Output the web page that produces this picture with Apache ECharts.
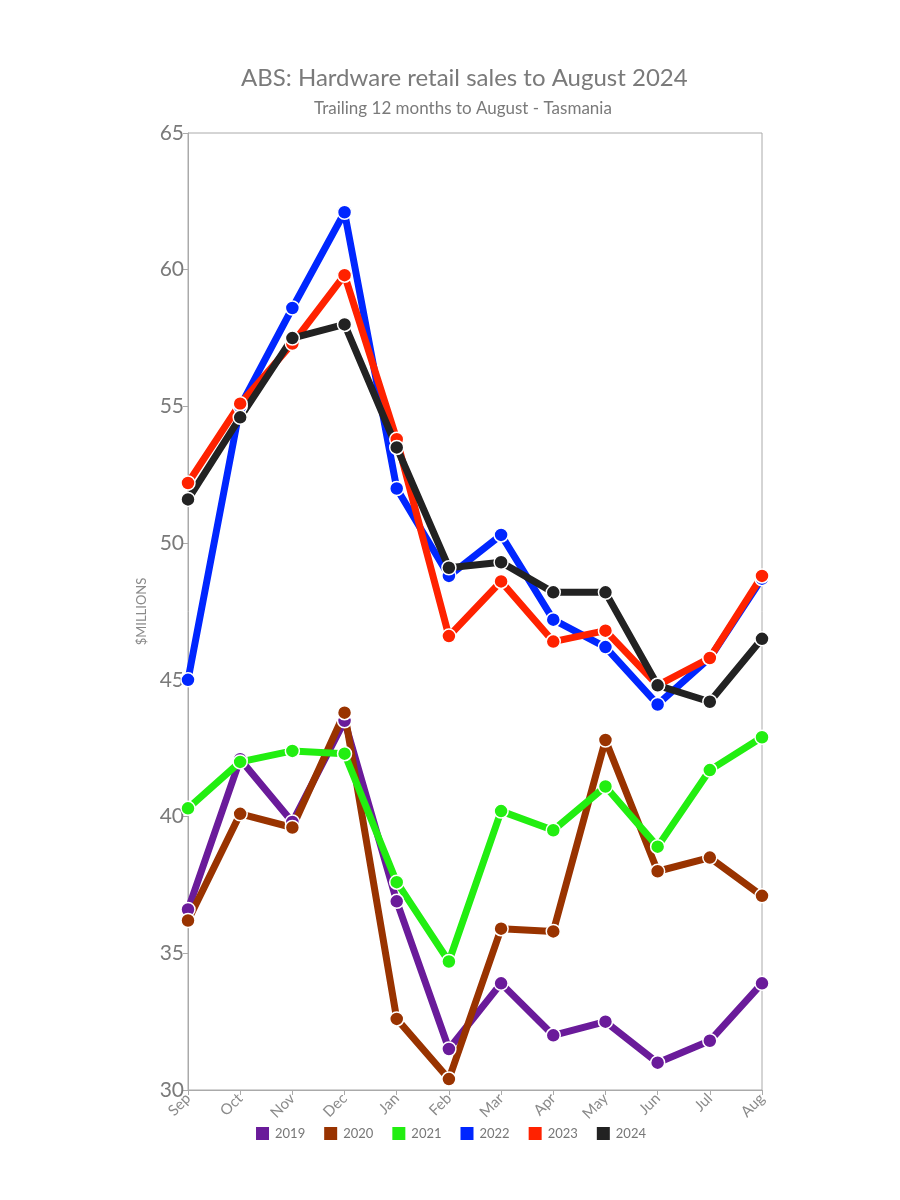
<!DOCTYPE html>
<html>
<head>
<meta charset="utf-8">
<script src="https://cdn.jsdelivr.net/npm/echarts@6/dist/echarts.min.js"></script>
<style>html,body{margin:0;padding:0;background:#fff}#chart{width:900px;height:1200px}</style>
</head>
<body>
<div id="chart"></div>
<script>
const months = ['Sep','Oct','Nov','Dec','Jan','Feb','Mar','Apr','May','Jun','Jul','Aug'];
const s2019 = [36.6, 42.1, 39.8, 43.5, 36.9, 31.5, 33.9, 32.0, 32.5, 31.0, 31.8, 33.9];
const s2020 = [36.2, 40.1, 39.6, 43.8, 32.6, 30.4, 35.9, 35.8, 42.8, 38.0, 38.5, 37.1];
const s2021 = [40.3, 42.0, 42.4, 42.3, 37.6, 34.7, 40.2, 39.5, 41.1, 38.9, 41.7, 42.9];
const s2022 = [45.0, 55.0, 58.6, 62.1, 52.0, 48.8, 50.3, 47.2, 46.2, 44.1, 45.8, 48.7];
const s2023 = [52.2, 55.1, 57.3, 59.8, 53.8, 46.6, 48.6, 46.4, 46.8, 44.8, 45.8, 48.8];
const s2024 = [51.6, 54.6, 57.5, 58.0, 53.5, 49.1, 49.3, 48.2, 48.2, 44.8, 44.2, 46.5];
const yTicks = [30, 35, 40, 45, 50, 55, 60, 65];

const seriesDefs = [
  ['2019', s2019, '#6a1b9a'],
  ['2020', s2020, '#993300'],
  ['2021', s2021, '#22ee11'],
  ['2022', s2022, '#0026ff'],
  ['2023', s2023, '#ff2200'],
  ['2024', s2024, '#222222']
];

const FONT = 'Lato, "Open Sans", sans-serif';
const chart = echarts.init(document.getElementById('chart'));
chart.setOption({
  animation: false,
  backgroundColor: '#ffffff',
  title: [{
    text: 'ABS: Hardware retail sales to August 2024',
    left: 236,
    top: 61,
    textStyle: {fontFamily: FONT, fontSize: 24, fontWeight: 'normal', color: '#7a7a7a'}
  }, {
    text: 'Trailing 12 months to August - Tasmania',
    left: 309,
    top: 95,
    textStyle: {fontFamily: FONT, fontSize: 17, fontWeight: 'normal', color: '#7a7a7a'}
  }],
  legend: {
    bottom: 53,
    left: 'center',
    itemWidth: 15,
    itemHeight: 15,
    itemGap: 17,
    icon: 'rect',
    textStyle: {fontFamily: FONT, fontSize: 13, color: '#777'},
    data: seriesDefs.map(d => d[0])
  },
  grid: {
    left: 188, right: 138, top: 133, bottom: 110,
    show: true, borderColor: '#aaaaaa', borderWidth: 1
  },
  xAxis: {
    type: 'category',
    data: months,
    boundaryGap: false,
    axisLine: {lineStyle: {color: '#aaaaaa'}},
    axisTick: {alignWithLabel: true, length: 5, lineStyle: {color: '#aaaaaa'}},
    axisLabel: {rotate: 45, fontFamily: FONT, fontSize: 15, color: '#8a8a8a', margin: 6},
    splitLine: {show: false}
  },
  yAxis: {
    type: 'value',
    min: 30, max: 65, interval: 5,
    name: '$MILLIONS',
    nameLocation: 'middle',
    nameGap: 40,
    nameTextStyle: {fontFamily: FONT, fontSize: 13, color: '#8a8a8a'},
    axisLine: {show: true, lineStyle: {color: '#aaaaaa'}},
    axisTick: {show: true, length: 5, lineStyle: {color: '#aaaaaa'}},
    axisLabel: {fontFamily: FONT, fontSize: 21, color: '#7a7a7a', margin: 4,
      formatter: v => yTicks.includes(v) ? String(v) : ''},
    splitLine: {show: false}
  },
  series: seriesDefs.map(([name, data, color]) => ({
    name, type: 'line', data,
    symbol: 'circle', symbolSize: 14,
    lineStyle: {width: 7, color},
    itemStyle: {color, borderColor: '#ffffff', borderWidth: 1.5},
    emphasis: {disabled: true}
  }))
});
</script>
</body>
</html>
